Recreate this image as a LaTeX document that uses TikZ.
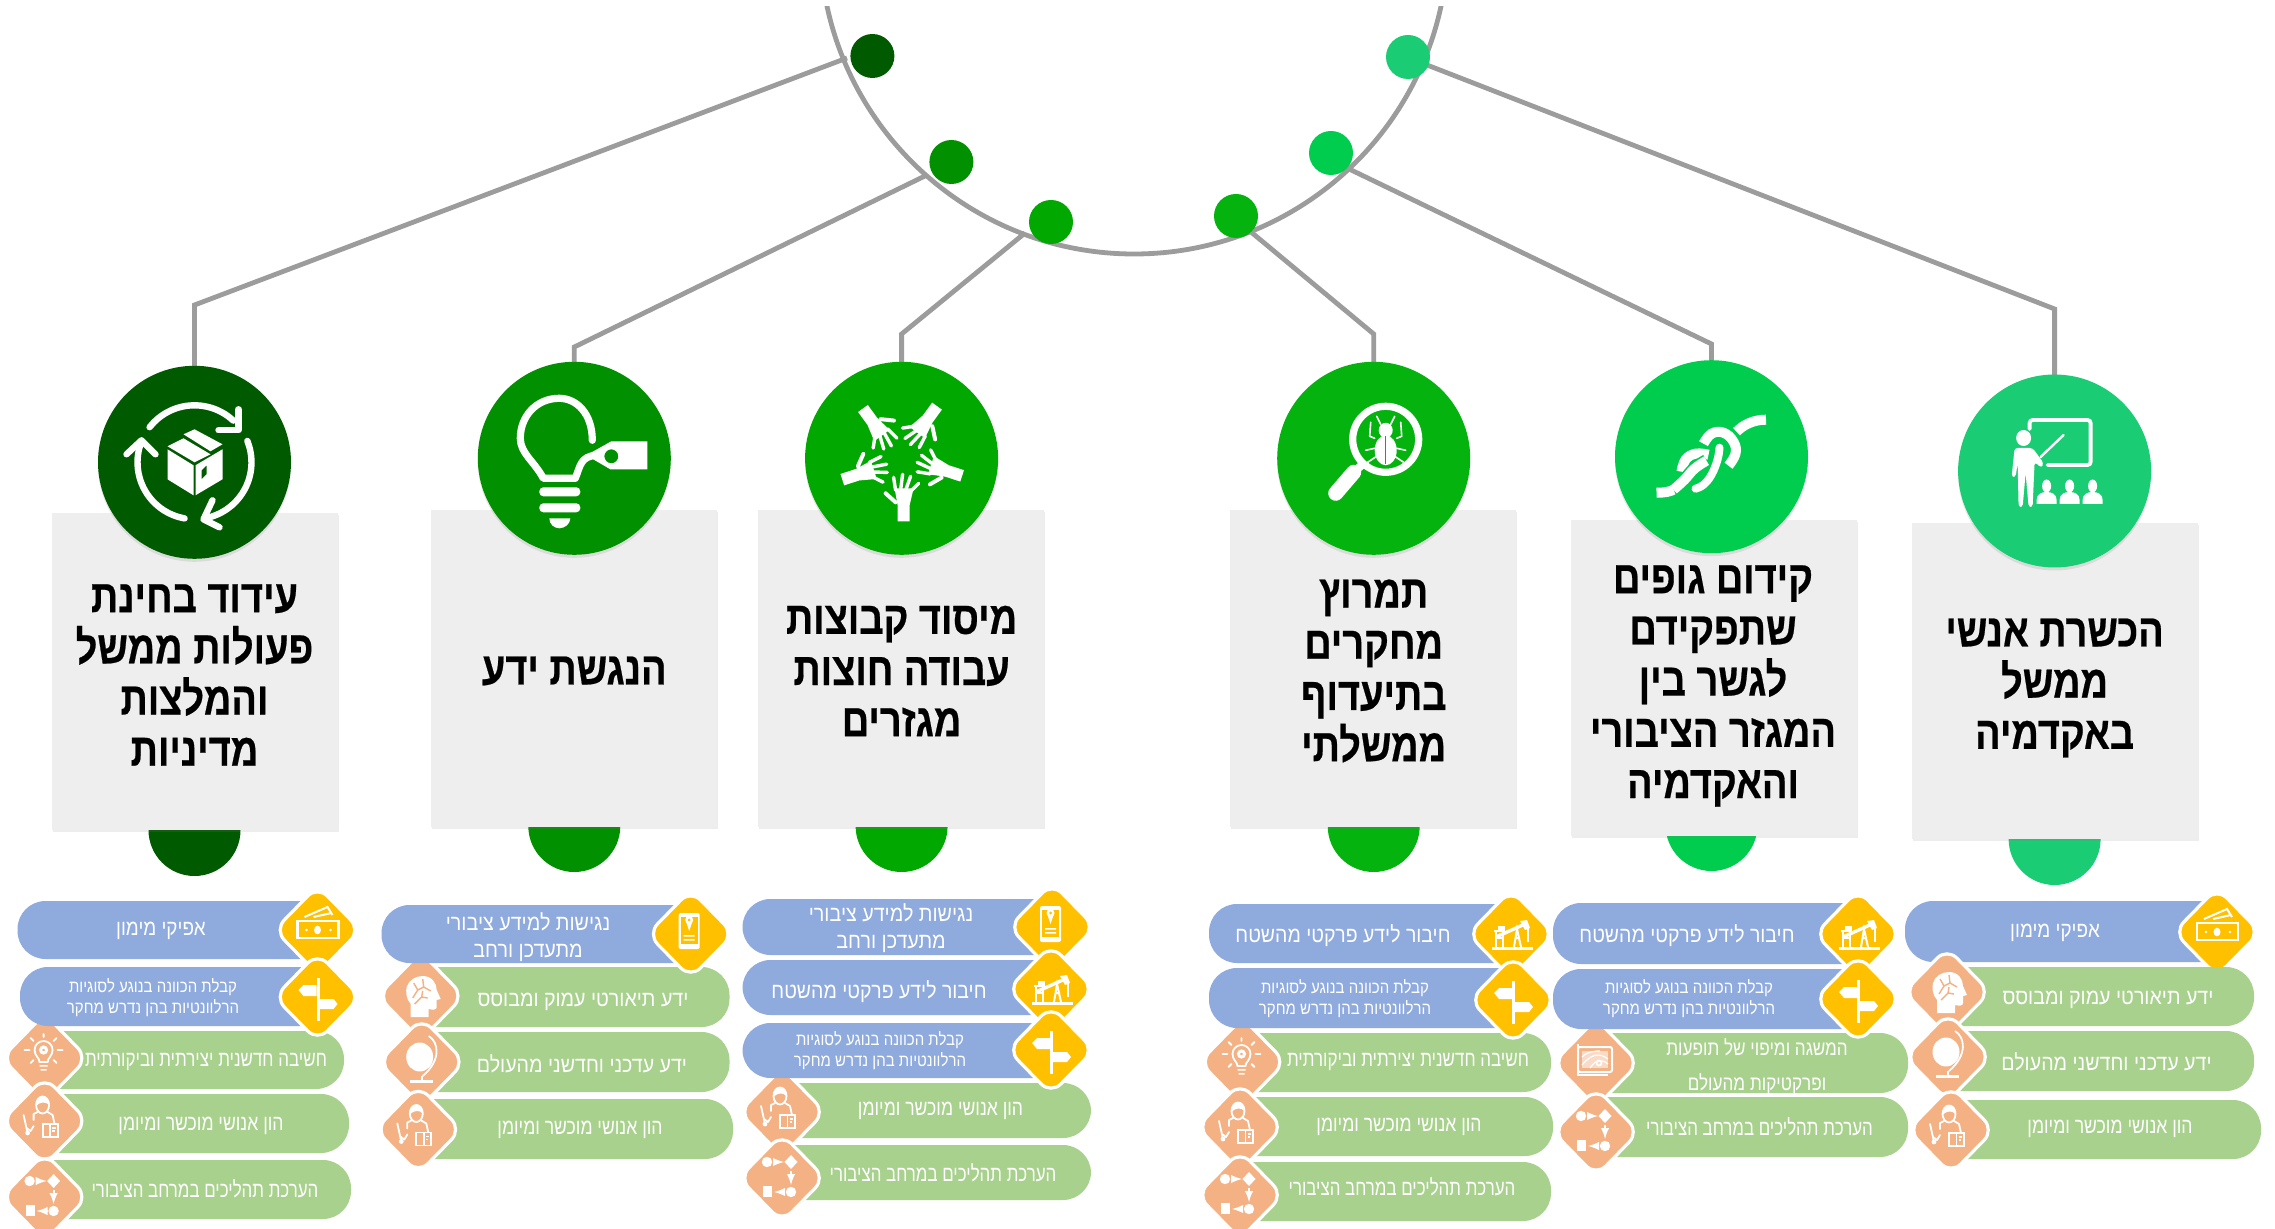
\documentclass[tikz,border=0pt]{standalone}
\usepackage{fontspec}
\usepackage{graphicx}
\usetikzlibrary{shapes.geometric,shadows}
\TeXXeTstate=1
\newfontfamily\titlefont[Script=Hebrew,FakeStretch=0.825,BoldFeatures={FakeBold=0.5}]{Liberation Sans}
\newfontfamily\pillfont[Script=Hebrew,FakeStretch=0.80]{Liberation Sans}
\newcommand\rtl[1]{\beginR #1\endR}
\newcommand\rts[2]{\scalebox{#1}[1]{\beginR #2\endR}}
\newcommand\fbig{\pillfont\fontsize{11}{13.5}\selectfont}
\newcommand\fsmall{\pillfont\fontsize{8.6}{10.5}\selectfont}
\newcommand\fwide{\pillfont\fontsize{10.4}{17.5}\selectfont}
\definecolor{cA}{HTML}{005A00}
\definecolor{cB}{HTML}{009000}
\definecolor{cC}{HTML}{00A800}
\definecolor{cD}{HTML}{05B30F}
\definecolor{cE}{HTML}{00CC4D}
\definecolor{cF}{HTML}{1ACC73}
\definecolor{pblue}{HTML}{8FAADC}
\definecolor{pgreen}{HTML}{A9D18E}
\definecolor{yel}{HTML}{FFC000}
\definecolor{peach}{HTML}{F4B183}
\definecolor{cardgray}{HTML}{EEEEEE}
\definecolor{linegray}{HTML}{9C9C9C}
\colorlet{hole}{white}
\tikzset{
  x=0.5pt,y=-0.5pt,
  conn/.style={draw=linegray,line width=2.4pt,line join=miter},
  dot/.style={circle,minimum size=22pt,inner sep=0pt},
  bigc/.style={circle,minimum size=96.5pt,inner sep=0pt,drop shadow={opacity=0.18,shadow xshift=0pt,shadow yshift=-1.5pt}},
  halfc/.style={circle,minimum size=46pt,inner sep=0pt},
  card/.style={rectangle,fill=cardgray,inner sep=0pt,minimum width=143pt,drop shadow={opacity=0.14,shadow xshift=0.6pt,shadow yshift=-1pt}},
  title/.style={align=center,font=\titlefont\bfseries\fontsize{23}{25.6}\selectfont,text=black},
  pilltext/.style={align=center,text=white,inner sep=0pt},
  wl/.style={draw=white,line cap=round,line join=round},
  pics/recyc/.style={code={
    \fill[white] (-27,-13)--(-1,3)--(-1,33)--(-27,17)--cycle;
    \fill[white,even odd rule] (28,-13)--(1,3)--(1,33)--(28,17)--cycle (7,8)--(12,3)--(12,12)--(7,17)--cycle;
    \fill[white] (-27,-16)--(-11,-24)--(16,-8)--(0,0)--cycle;
    \fill[white] (-11,-28)--(0,-33)--(28,-18)--(16,-11)--cycle;
    \draw[wl,line width=3.2pt] plot[smooth,samples=14,domain=-142:-47,variable=\t] ({57*cos(\t)},{57*sin(\t)});
    \draw[wl,line width=3.2pt] (44,-53)--(44,-32)--(24,-32);
    \draw[wl,line width=3.2pt] plot[smooth,samples=14,domain=100:200,variable=\t] ({57*cos(\t)},{57*sin(\t)});
    \draw[wl,line width=3.2pt] (-68,-8)--(-53,-22)--(-39,-8);
    \draw[wl,line width=3.2pt] plot[smooth,samples=14,domain=-22:80,variable=\t] ({57*cos(\t)},{57*sin(\t)});
    \draw[wl,line width=3.2pt] (18,38)--(9,57)--(25,65);
  }},
  pics/bulbtag/.style={code={
    \draw[wl,line width=3.6pt] (18,-18) .. controls (18,-45) and (2,-60) .. (-15,-60) .. controls (-38,-60) and (-54,-42) .. (-54,-20) .. controls (-54,-5) and (-40,3) .. (-31,20) -- (1,20) .. controls (6,8) and (6,-2) .. (22,-3);
    \fill[white,even odd rule] (37,-17)--(73,-17)--(73,11)--(36,11)--(12,-3)--cycle (37,-2) circle[radius=7];
    \fill[white,rounded corners=2pt] (-35,29) rectangle (6,38);
    \fill[white,rounded corners=2pt] (-35,45) rectangle (6,54);
    \fill[white] (-25,60)--(-4,60) .. controls (-4,66) and (-10,70) .. (-15,70) .. controls (-20,70) and (-25,66) .. (-25,60);
  }},
  pics/hands/.style={code={
    \foreach \a in {0,72,144,216,288}{
      \begin{scope}[rotate=\a,shift={(2,0)}]
        \fill[white] (-6,63)--(6,63)--(6,47)--(10,30)--(-9,30)--(-6,47)--cycle;
        \draw[wl,line width=1.7pt] (-8,32)--(-10,19) (-3,32)--(-1,16) (2,32)--(7,18) (7,33)--(15,25);
        \draw[wl,line width=2pt] (-8,44)--(-18,35);
      \end{scope}
    }
  }},
  pics/bugglass/.style={code={
    \draw[white,line width=3.6pt] (12,-19) circle[radius=33];
    \draw[white,line width=7.5pt,line cap=round] (-20,14)--(-38,35);
    \draw[white,line width=4pt] (-10,5)--(-20,14);
    \fill[white] (12,-8) ellipse[x radius=11,y radius=15];
    \fill[white] (12,-28) ellipse[x radius=7,y radius=7.5];
    \draw[hole,line width=0.5pt] (12,-22)--(12,6);
    \draw[wl,line width=0.8pt] (7,-34)--(3,-42) (17,-34)--(21,-42) (1,-20)--(-4,-22)--(-3,-36) (23,-20)--(28,-22)--(27,-36) (1,-10)--(-8,-8) (23,-10)--(32,-8) (3,-2)--(-6,4)--(-5,12) (21,-2)--(30,4)--(29,12);
  }},
  pics/knot/.style={code={
    \draw[white,line width=5pt] (54.5,-37) .. controls (42,-37) and (32,-32) .. (25,-25);
    \draw[white,line width=5pt] plot[smooth,tension=0.7] coordinates {(-8,-13) (0,-23) (12,-24) (22,-15) (24,-3) (17,9)};
    \draw[white,line width=5pt] plot[smooth,tension=0.7] coordinates {(-3,-2) (-16,-3) (-26,3) (-30,15)};
    \draw[hole,line width=6.6pt] plot[smooth,tension=0.7] coordinates {(-38,33) (-27,23) (-17,12) (-5,4)};
    \draw[white,line width=5pt] (-55,36) .. controls (-46,36) and (-42,35) .. (-38,33);
    \draw[white,line width=5pt] plot[smooth,tension=0.7] coordinates {(-38,33) (-27,23) (-17,12) (-5,4)};
    \draw[hole,line width=6pt] plot[smooth,tension=0.7] coordinates {(8,-9) (6,3) (0,18) (-8,28) (-16,32)};
    \draw[white,line width=4pt,line cap=round] plot[smooth,tension=0.7] coordinates {(8,-9) (6,3) (0,18) (-8,28) (-16,32)};
  }},
  pics/teacher/.style={code={
    \draw[white,line width=1.9pt,line cap=round,rounded corners=1.5pt] (-25,-42)--(-25,-51)--(36,-51)--(36,-6)--(-7,-6);
    \draw[wl,line width=1.2pt] (-14,-14)--(9,-36);
    \fill[white] (-31,-33) ellipse[x radius=7.5,y radius=8];
    \fill[white,rounded corners=1.5pt] (-40,-23)--(-22,-23)--(-11,-8)--(-13,-3)--(-20,-9)--(-22,36)--(-26,36)--(-29,2)--(-32,36)--(-36,36)--(-37,-8)--(-39,6)--(-43,6)--cycle;
    \foreach \u in {-8,15,38}{
      \fill[white] (\u,15) ellipse[x radius=4.5,y radius=6.5];
      \fill[white] ({\u-10},33)--({\u-10},29) .. controls ({\u-10},23) and ({\u-5},21) .. (\u,21) .. controls ({\u+5},21) and ({\u+10},23) .. ({\u+10},29) -- ({\u+10},33)--cycle;
    }
  }},
  pics/money/.style={code={
    \draw[white,line width=1.2pt] (-20,-9) rectangle (21,8);
    \fill[white] (0,0) ellipse[x radius=3.5,y radius=4.3];
    \fill[white] (-11,0) circle[radius=1.4] (13,0) circle[radius=1.4];
    \draw[white,line width=1pt] (-13,-13)--(10,-23)--(15,-15) (-4,-13)--(14,-17);
  }},
  pics/signp/.style={code={
    \fill[white] (-1,-19) rectangle (2,24);
    \fill[white] (-19,-7)--(-14,-12)--(-1,-12)--(-1,-1)--(-14,-1)--cycle;
    \fill[white] (2,2)--(16,2)--(20,7)--(16,12)--(2,12)--cycle;
  }},
  pics/phonep/.style={code={
    \fill[white,rounded corners=1pt] (-12,-21) rectangle (9,15);
    \fill[hole] (-10,-17) rectangle (7,10);
    \fill[white] (-1.5,-14) circle[radius=4];
    \fill[white] (-4.5,-12)--(1.5,-12)--(-1.5,-3)--cycle;
    \fill[hole] (-1.5,-14) circle[radius=1.5];
    \fill[white] (-7,1) rectangle (4,2.6) (-7,5) rectangle (4,6.6);
  }},
  pics/pump/.style={code={
    \draw[white,line width=1.5pt] (-19,14)--(22,14);
    \draw[white,line width=1.2pt] (-15,13)--(-15,-3) (-8,13)--(-8,-3) (-17,-3)--(-6,-3) (-15,4)--(-8,4);
    \draw[white,line width=1.7pt] (-15,3)--(14,-10);
    \draw[white,line width=1pt] (3,13)--(6,-5)--(10,13) (4,4)--(9,4);
    \fill[white] (9,-13)--(16,-14)--(19,-6)--(14,-4)--cycle;
    \draw[white,line width=0.8pt] (17,-6)--(17,8);
    \fill[white] (-13,-8) rectangle (-6,-3);
  }},
  pics/gearbulb/.style={code={
    \draw[white,line width=0.9pt] (-5,4) .. controls (-5,0) and (-10,-2) .. (-10,-8) .. controls (-10,-13) and (-6,-17) .. (-1,-17) .. controls (4,-17) and (8,-13) .. (8,-8) .. controls (8,-2) and (3,0) .. (3,4) -- cycle;
    \draw[white,line width=1.5pt] (-1,-8) circle[radius=3];
    \fill[white] (-5,7) rectangle (3,8.6) (-4,11) rectangle (2,12.6);
    \draw[wl,line width=0.9pt] (-1,-24)--(-1,-21) (-14,-20)--(-11,-17) (12,-20)--(9,-17) (-20,-8)--(-15,-8) (18,-8)--(13,-8) (-14,5)--(-11,2) (12,5)--(9,2);
  }},
  pics/person/.style={code={
    \draw[white,line width=0.9pt] (-2,-16) ellipse[x radius=6.5,y radius=8.5];
    \fill[white] (-8.5,-15) .. controls (-9,-22) and (-5,-25) .. (-2,-25) .. controls (2,-25) and (5,-22) .. (4.5,-16) .. controls (1,-20) and (-5,-19) .. (-8.5,-15);
    \draw[wl,line width=0.9pt] (-11,-1)--(-11,-7)--(-7,-9) (3,-9)--(8,-6)--(10,3) (-11,5)--(-14,10)--(-18,7);
    \draw[wl,line width=0.9pt] (-21,-6)--(-17,12);
    \fill[white] (-17,12) circle[radius=2.4];
    \draw[white,line width=0.9pt,fill=hole] (-2,3) rectangle (13,16);
    \draw[white,line width=0.7pt] (5.5,3)--(5.5,16) (7.5,7)--(11,7) (7.5,10)--(10,10);
  }},
  pics/flowp/.style={code={
    \fill[white] (-15,-16) circle[radius=5.2];
    \fill[white] (9,-23)--(15.5,-16)--(9,-9)--(2.5,-16)--cycle;
    \fill[white] (9,14) circle[radius=5.2];
    \fill[white] (-19,8) rectangle (-10,19);
    \draw[white,line width=0.9pt,-latex] (-8,-16)--(2,-16);
    \draw[white,line width=0.9pt,-latex] (9,-7)--(9,7);
    \draw[white,line width=0.9pt,-latex] (3,14)--(-8,14);
  }},
  pics/brainp/.style={code={
    \fill[white] (-10,21)--(-10,8) .. controls (-15,3) and (-15,-6) .. (-14,-9) .. controls (-12,-16) and (-5,-20) .. (2,-20) .. controls (11,-20) and (16,-13) .. (16,-6) -- (20,3)--(16,4)--(16,11) .. controls (16,14) and (12,14) .. (8,13)--(8,21)--cycle;
    \draw[hole,line width=0.7pt] (-8,2)--(-3,-6)--(-7,-13) (-3,-6)--(3,-9)--(2,-17) (3,-9)--(10,-5) (-6,8)--(1,1)--(7,2) (1,1)--(2,-5);
  }},
  pics/globep/.style={code={
    \fill[white] (-2,-5) ellipse[x radius=13.5,y radius=14.5];
    \draw[white,line width=0.9pt] (7,-26) .. controls (17,-20) and (20,-2) .. (1,14);
    \draw[white,line width=1.2pt] (0,14)--(0,18);
    \fill[white] (-12,18) rectangle (11,21);
  }},
  pics/mapp/.style={code={
    \draw[white,line width=1pt,rounded corners=1pt] (-18,-16) rectangle (16,9);
    \draw[white,line width=1pt] (-18,-19)--(-18,12)--(12,12);
    \fill[white,opacity=0.55] (-14,-12) rectangle (12,5);
    \draw[white,line width=0.6pt] (-14,2) .. controls (-4,-10) and (4,-10) .. (12,-4) (-6,5) .. controls (0,-4) and (6,-4) .. (12,1) (-14,-6) .. controls (-8,-12) and (0,-12) .. (4,-12);
    \draw[white,line width=0.8pt] (3,0) circle[radius=2.5];
  }}
}
\newcommand\pillB[4]{\fill[pblue,rounded corners=14pt] (#1,#2) rectangle ({#4+18},#3);}
\newcommand\pillG[4]{\fill[pgreen,rounded corners=14pt] ({#1-18},#3) rectangle (#2,#4);}
\newcommand\dmd[5]{\begin{scope}[shift={(#2,#3)}]\colorlet{hole}{#1}%
  \draw[white,line width=1.6pt,fill=#1,rounded corners=7pt] (-43,0)--(0,-44)--(43,0)--(0,44)--cycle;
  \pic {#4};\end{scope}}
\newcommand\tx[5]{\node[pilltext,font=#4] (#1) at (#2,#3) {#5};}
\newcommand\tHone{\scalebox{1.07}[1]{\beginR אפיקי מימון\endR}}
\newcommand\tKav{\scalebox{1.09}[1]{\beginR קבלת הכוונה בנוגע לסוגיות\endR}\\\scalebox{1.09}[1]{\beginR הרלוונטיות בהן נדרש מחקר\endR}}
\newcommand\tHash{\scalebox{0.965}[1]{\beginR חשיבה חדשנית יצירתית וביקורתית\endR}}
\newcommand\tHon{\beginR הון אנושי מוכשר ומיומן\endR}
\newcommand\tHaa{\scalebox{0.96}[1]{\beginR הערכת תהליכים במרחב הציבורי\endR}}
\newcommand\tNeg{\scalebox{1.12}[1]{\beginR נגישות למידע ציבורי\endR}\\\scalebox{1.12}[1]{\beginR מתעדכן ורחב\endR}}
\newcommand\tTeo{\scalebox{1.115}[1]{\beginR ידע תיאורטי עמוק ומבוסס\endR}}
\newcommand\tAdk{\scalebox{1.115}[1]{\beginR ידע עדכני וחדשני מהעולם\endR}}
\newcommand\tHib{\scalebox{1.105}[1]{\beginR חיבור לידע פרקטי מהשטח\endR}}
\begin{document}
\begin{tikzpicture}
\useasboundingbox (0,0) rectangle (2275,1229);
\fill[white] (0,0) rectangle (2275,1229);
% arc
\coordinate (hub) at (1134,-60);
\begin{scope}
  \clip (780,7) rectangle (1490,300);
  \draw[draw=linegray,line width=2.4pt] (hub) circle[radius=157pt];
\end{scope}
\coordinate (a1) at (847,58);\coordinate (k1) at (194.5,305);\coordinate (t1) at (194.5,366);
\coordinate (a2) at (927,175);\coordinate (k2) at (574.3,347);\coordinate (t2) at (574.3,362);
\coordinate (a3) at (1025,233);\coordinate (k3) at (901.6,334);\coordinate (t3) at (901.6,362);
\coordinate (a4) at (1251,232);\coordinate (k4) at (1373.7,334);\coordinate (t4) at (1373.7,362);
\coordinate (a5) at (1347,168);\coordinate (k5) at (1711.5,344);\coordinate (t5) at (1711.5,360);
\coordinate (a6) at (1427,65);\coordinate (k6) at (2054.6,309);\coordinate (t6) at (2054.6,375);
\foreach \i in {1,...,6}{\draw[conn] (a\i)--(k\i)--(t\i);}
% dots
\node[dot,fill=cA] (d1) at (872.4,56) {};
\node[dot,fill=cB] (d2) at (951.4,162) {};
\node[dot,fill=cC] (d3) at (1051,222) {};
\node[dot,fill=cD] (d4) at (1236,216) {};
\node[dot,fill=cE] (d5) at (1331,153) {};
\node[dot,fill=cF] (d6) at (1408,57) {};
% half circles
\node[halfc,fill=cA] (h1) at (194.5,830) {};
\node[halfc,fill=cB] (h2) at (574.3,826) {};
\node[halfc,fill=cC] (h3) at (901.6,826) {};
\node[halfc,fill=cD] (h4) at (1373.7,826) {};
\node[halfc,fill=cE] (h5) at (1711.5,825) {};
\node[halfc,fill=cF] (h6) at (2054.6,839) {};
% cards
\node[card,minimum height=158.5pt] (k1c) at (195,671.5) {};
\node[card,minimum height=158.5pt] (k2c) at (574,668.5) {};
\node[card,minimum height=158.5pt] (k3c) at (901,668.5) {};
\node[card,minimum height=158.5pt] (k4c) at (1373,668.5) {};
\node[card,minimum height=158pt] (k5c) at (1713.5,678) {};
\node[card,minimum height=158pt] (k6c) at (2054.5,681) {};
% main circles
\node[bigc,fill=cA] (c1) at (194.5,462.3) {};
\node[bigc,fill=cB] (c2) at (574.3,458.3) {};
\node[bigc,fill=cC] (c3) at (901.6,458.3) {};
\node[bigc,fill=cD] (c4) at (1373.7,458.3) {};
\node[bigc,fill=cE] (c5) at (1711.5,456.7) {};
\node[bigc,fill=cF] (c6) at (2054.6,471) {};
\begin{scope}[shift={(194.5,462.3)}]\colorlet{hole}{cA}\pic {recyc};\end{scope}
\begin{scope}[shift={(574.3,458.3)}]\colorlet{hole}{cB}\pic {bulbtag};\end{scope}
\begin{scope}[shift={(901.6,458.3)}]\colorlet{hole}{cC}\pic {hands};\end{scope}
\begin{scope}[shift={(1373.7,458.3)}]\colorlet{hole}{cD}\pic {bugglass};\end{scope}
\begin{scope}[shift={(1711.5,456.7)}]\colorlet{hole}{cE}\pic {knot};\end{scope}
\begin{scope}[shift={(2054.6,471)}]\colorlet{hole}{cF}\pic {teacher};\end{scope}
% titles
\node[title] (ti1) at (194.5,675) {\rtl{עידוד בחינת}\\\rtl{פעולות ממשל}\\\rtl{והמלצות}\\\rtl{מדיניות}};
\node[title] (ti2) at (574.3,671) {\rtl{הנגשת ידע}};
\node[title] (ti3) at (901.6,671) {\rtl{מיסוד קבוצות}\\\rtl{עבודה חוצות}\\\rtl{מגזרים}};
\node[title] (ti4) at (1373.7,671) {\rtl{תמרוץ}\\\rtl{מחקרים}\\\rtl{בתיעדוף}\\\rtl{ממשלתי}};
\node[title] (ti5) at (1713,686) {\rtl{קידום גופים}\\\rtl{שתפקידם}\\\rtl{לגשר בין}\\\rtl{המגזר הציבורי}\\\rtl{והאקדמיה}};
\node[title] (ti6) at (2054.6,688) {\rtl{הכשרת אנשי}\\\rtl{ממשל}\\\rtl{באקדמיה}};
% column 1
\pillG{44.6}{344}{1031}{1089}\dmd{peach}{44.6}{1058}{gearbulb}{}\tx{a1t3}{206}{1062}{\fbig}{\tHash}
\pillG{44.6}{349}{1094}{1153}\dmd{peach}{44.6}{1121}{person}{}\tx{a1t4}{201}{1126}{\fbig}{\tHon}
\pillG{44.6}{351}{1160}{1219}\dmd{peach}{44.6}{1197}{flowp}{}\tx{a1t5}{205}{1189}{\fbig}{\tHaa}
\pillB{17.5}{901}{959}{317.5}\dmd{yel}{317.5}{930}{money}{}\tx{a1t1}{161}{931}{\fbig}{\tHone}
\pillB{20}{967}{1026}{317.5}\dmd{yel}{317.5}{997}{signp}{}\tx{a1t2}{153}{998}{\fsmall}{\tKav}
% column 2
\pillG{420.7}{729.5}{967}{1027}\dmd{peach}{420.7}{996}{brainp}{}\tx{a2t2}{583}{1002}{\fbig}{\tTeo}
\pillG{421.7}{729.5}{1032}{1092}\dmd{peach}{421.7}{1062}{globep}{}\tx{a2t3}{582}{1064}{\fbig}{\tAdk}
\pillG{418.3}{733}{1099}{1159}\dmd{peach}{418.3}{1129.5}{person}{}\tx{a2t4}{580}{1130}{\fbig}{\tHon}
\pillB{381.5}{905}{963}{690.7}\dmd{yel}{690.7}{934}{phonep}{}\tx{a2t1}{528}{937}{\fbig}{\tNeg}
% column 3
\pillG{782}{1091}{1083}{1138}\dmd{peach}{782}{1112}{person}{}\tx{a3t4}{940.5}{1111}{\fbig}{\tHon}
\pillG{782}{1091}{1145}{1200}\dmd{peach}{782}{1178}{flowp}{}\tx{a3t5}{943}{1173}{\fbig}{\tHaa}
\pillB{742.5}{899}{955}{1052}\dmd{yel}{1052}{927}{phonep}{}\tx{a3t1}{891}{928}{\fbig}{\tNeg}
\pillB{742.5}{960}{1015}{1051}\dmd{yel}{1051}{989}{pump}{}\tx{a3t2}{879}{992}{\fbig}{\tHib}
\pillB{742.5}{1023}{1078}{1051}\dmd{yel}{1051}{1050}{signp}{}\tx{a3t3}{880}{1051}{\fsmall}{\tKav}
% column 4
\pillG{1242.5}{1551}{1033}{1092}\dmd{peach}{1242.5}{1062}{gearbulb}{}\tx{a4t3}{1408}{1062}{\fbig}{\tHash}
\pillG{1240}{1553}{1097}{1156}\dmd{peach}{1240}{1127}{person}{}\tx{a4t4}{1399}{1127}{\fbig}{\tHon}
\pillG{1240}{1551}{1162}{1221}\dmd{peach}{1240}{1195}{flowp}{}\tx{a4t5}{1402}{1187}{\fbig}{\tHaa}
\pillB{1209}{904}{963}{1511}\dmd{yel}{1511}{934}{pump}{}\tx{a4t1}{1343}{936}{\fbig}{\tHib}
\pillB{1209}{968}{1028}{1513}\dmd{yel}{1513}{1000}{signp}{}\tx{a4t2}{1345}{999}{\fsmall}{\tKav}
% column 5
\pillG{1596}{1908}{1033}{1093}\dmd{peach}{1596}{1063}{mapp}{}\tx{a5t3}{1757}{1066}{\fwide}{\scalebox{1.03}[1]{\beginR המשגה ומיפוי של תופעות\endR}\\\scalebox{1.03}[1]{\beginR ופרקטיקות מהעולם\endR}}
\pillG{1596}{1908}{1097}{1157}\dmd{peach}{1596}{1132}{flowp}{}\tx{a5t4}{1759.5}{1127}{\fbig}{\tHaa}
\pillB{1553}{903}{964}{1858}\dmd{yel}{1858}{934}{pump}{}\tx{a5t1}{1687}{936}{\fbig}{\tHib}
\pillB{1553}{969}{1029}{1858}\dmd{yel}{1858}{999}{signp}{}\tx{a5t2}{1689}{999}{\fsmall}{\tKav}
% column 6
\pillB{1905}{901}{962}{2217}\dmd{yel}{2217}{932}{money}{}\tx{a6t1}{2055}{933}{\fbig}{\tHone}
\pillG{1947}{2254}{967}{1026}\dmd{peach}{1947}{992}{brainp}{}\tx{a6t2}{2108}{1000}{\fbig}{\tTeo}
\pillG{1948}{2254}{1031}{1091}\dmd{peach}{1948}{1057}{globep}{}\tx{a6t3}{2106.5}{1062}{\fbig}{\tAdk}
\pillG{1951}{2261}{1100}{1159}\dmd{peach}{1951}{1130}{person}{}\tx{a6t4}{2110}{1129}{\fbig}{\tHon}
\end{tikzpicture}
\end{document}
